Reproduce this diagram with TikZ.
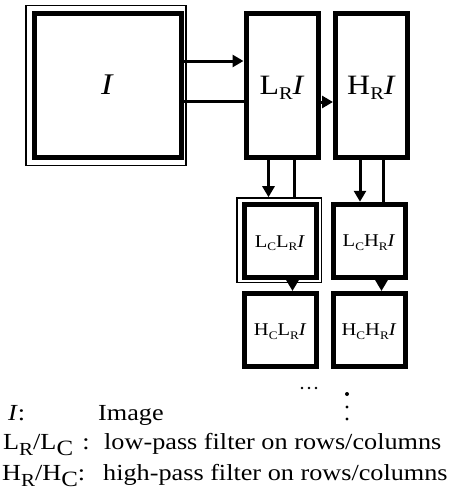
\documentclass[tikz,border=0pt]{standalone}
\usepackage{fontspec}
\setmainfont{Liberation Serif}
\usepackage{graphicx}
\usetikzlibrary{arrows.meta}

\newcommand{\wide}[1]{\scalebox{1.14}[1]{#1}}
\newcommand{\bsub}[1]{\raisebox{-0.2em}{\scalebox{0.64}{#1}}}
\newcommand{\lsub}[2][0.8]{\raisebox{-0.3em}{\scalebox{#1}{#2}}}

\tikzset{
    box/.style={draw, line width=5pt, inner sep=0pt, text depth=0pt},
    rowbox/.style={box, minimum width=72pt, minimum height=144pt, font=\fontsize{28}{32}\selectfont},
    colbox/.style={box, minimum width=72pt, minimum height=73pt, font=\fontsize{18}{21}\selectfont},
    frame/.style={draw, line width=1.6pt, inner sep=0pt},
    arr/.style={line width=3pt, -{Triangle[length=11pt,width=12pt]}},
    link/.style={line width=3pt},
    legend/.style={anchor=base west, inner sep=0pt, font=\fontsize{23}{27}\selectfont}
}

\begin{document}
\begin{tikzpicture}[x=1pt,y=-1pt]
    \useasboundingbox (0,0) rectangle (449,501);

    \node[frame, minimum width=160pt, minimum height=160pt] (imgf) at (106,85.5) {};
    \node[box, minimum width=147pt, minimum height=144pt, font=\fontsize{30}{34}\selectfont] (img) at (107.5,85) {\wide{\textit{I}}};

    \node[rowbox] (lr) at (282,85) {\wide{L\bsub{R}\textit{I}}};
    \node[rowbox] (hr) at (371.5,85) {\wide{H\bsub{R}\textit{I}}};

    \node[frame, minimum width=84.5pt, minimum height=84.5pt] (lclrf) at (279.25,240.25) {};
    \node[colbox] (lclr) at (280,241.25) {\wide{L\bsub{C}L\bsub{R}\textit{I}}};
    \node[colbox] (lchr) at (369,240.75) {\wide{L\bsub{C}H\bsub{R}\textit{I}}};
    \node[colbox] (hclr) at (280.25,330) {\wide{H\bsub{C}L\bsub{R}\textit{I}}};
    \node[colbox] (hchr) at (369,330) {\wide{H\bsub{C}H\bsub{R}\textit{I}}};

    \draw[arr] (img.east |- 0,61) -- (lr.west |- 0,61);
    \draw[link] (img.east |- 0,101) -- (lr.west |- 0,101);
    \draw[arr] (lr.east |- 0,102) -- (hr.west |- 0,102);

    \draw[arr] (lr.south -| 268.5,0) -- (lclrf.north -| 268.5,0);
    \draw[link] (lr.south -| 294.5,0) -- (lclrf.north -| 294.5,0);
    \draw[arr] (hr.south -| 360,0) -- (lchr.north -| 360,0);
    \draw[link] (hr.south -| 383.5,0) -- (lchr.north -| 383.5,0);
    \draw[arr] (lclrf.south -| 292.5,0) -- (hclr.north -| 292.5,0);
    \draw[arr] (lchr.south -| 381.5,0) -- (hchr.north -| 381.5,0);

    % dots
    \fill (302,388) circle (1.4pt) (309,388) circle (1.4pt) (316,388) circle (1.4pt);
    \fill (347,394) circle (2pt) (347,407) circle (1.6pt) (347,419) circle (1.6pt);

    \node[legend] (kI) at (8,420) {\wide{\textit{I}:}};
    \node[legend] (vI) at (98,420) {\wide{Image}};
    \node[legend] (kL) at (3,449) {\wide{L\lsub{R}/L\lsub[0.95]{C}\hspace{0.35em}:}};
    \node[legend] (vL) at (104,449) {\wide{low-pass filter on rows/columns}};
    \node[legend] (kH) at (2,480) {\wide{H\lsub{R}/H\lsub[0.95]{C}:}};
    \node[legend] (vH) at (103,480) {\wide{high-pass filter on rows/columns}};
\end{tikzpicture}
\end{document}
